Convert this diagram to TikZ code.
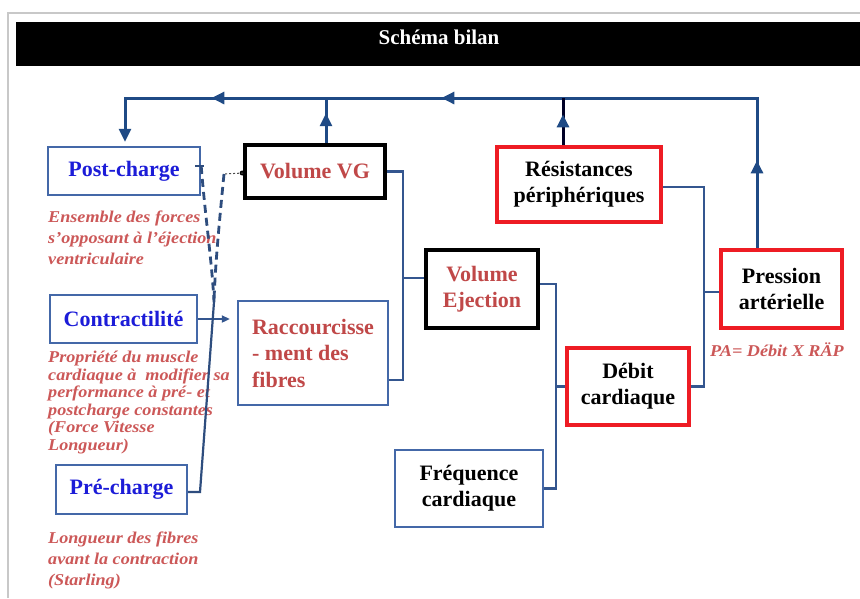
\documentclass[tikz,border=0pt]{standalone}
\usepackage{fontspec}
\setmainfont{Liberation Serif}
\newfontfamily\annotfamily[FakeStretch=1.1]{Liberation Serif}
\usetikzlibrary{arrows.meta,decorations.markings,calc}
\definecolor{framegray}{HTML}{C8C8C8}
\definecolor{boxblue}{HTML}{4468A8}
\definecolor{connblue}{HTML}{34568F}
\definecolor{busblue}{HTML}{1F4A85}
\definecolor{dashblue}{HTML}{2E4D7E}
\definecolor{textblue}{HTML}{1C1CD8}
\definecolor{redtext}{HTML}{C04848}
\definecolor{annotred}{HTML}{CC5858}
\definecolor{redborder}{HTML}{EE1C24}
\newcommand{\boxfont}{\bfseries\fontsize{22}{26}\selectfont}
\newcommand{\annotfont}{\annotfamily\bfseries\itshape\fontsize{16.5}{21}\selectfont}
\begin{document}
\begin{tikzpicture}[x=1pt,y=-1pt,
  box/.style={rectangle,inner sep=0pt,align=center,font=\boxfont},
  bluebox/.style={box,draw=boxblue,line width=2.4pt},
  blackbox/.style={box,draw=black,line width=3.6pt},
  redbox/.style={box,draw=redborder,line width=3.2pt},
  annot/.style={anchor=north west,align=left,inner sep=0pt,text=annotred,font=\annotfont},
  conn/.style={draw=connblue,line width=2.4pt},
  bus/.style={draw=busblue,line width=3pt},
  dashline/.style={draw=dashblue,line width=2.8pt,dash pattern=on 8pt off 5pt},
  bustip/.tip={Triangle[length=13pt,width=12pt]},
  marks/.style={postaction={decorate},decoration={markings,#1}}
]
\useasboundingbox (0,0) rectangle (860,598);
\fill[white] (0,0) rectangle (860,598);
\draw[framegray,line width=2pt] (8,598) -- (8,13) -- (860,13);
\fill[black] (16,22) rectangle (860,66);
\node[text=white,font=\bfseries\fontsize{21}{24}\selectfont] (title) at (439,37) {Schéma bilan};

% boxes
\node[bluebox,minimum width=152pt,minimum height=48pt,text=textblue] (post) at (124,171) {Post-charge};
\node[bluebox,minimum width=147pt,minimum height=48pt,text=textblue] (contr) at (123.5,319) {Contractilité};
\node[bluebox,minimum width=131pt,minimum height=49pt,text=textblue] (pre) at (121.5,489.5) {Pré-charge};
\node[blackbox,minimum width=140pt,minimum height=53pt,text=redtext] (vvg) at (315,171.5) {Volume VG};
\node[bluebox,minimum width=150pt,minimum height=104pt,text=redtext,align=left,font=\bfseries\fontsize{22}{26.5}\selectfont] (racc) at (313,353) {Raccourcisse\\- ment des\\fibres};
\node[blackbox,minimum width=112pt,minimum height=78pt,text=redtext] (vej) at (482,289) {Volume\\Ejection};
\node[redbox,minimum width=164pt,minimum height=75pt] (res) at (579,184.5) {Résistances\\périphériques};
\node[redbox,minimum width=121pt,minimum height=78pt] (pres) at (781.5,289) {Pression\\artérielle};
\node[redbox,minimum width=122pt,minimum height=77pt] (deb) at (628,386.5) {Débit\\cardiaque};
\node[bluebox,minimum width=148pt,minimum height=77pt] (freq) at (469,488.5) {Fréquence\\cardiaque};

% annotations
\node[annot] (ann1) at (48,211) {Ensemble des forces\\s’opposant à l’éjection\\ventriculaire};
\node[annot,font=\annotfamily\bfseries\itshape\fontsize{16.5}{17.5}\selectfont] (ann2) at (48,351) {Propriété du muscle\\cardiaque à~ modifier sa\\performance à pré- et\\postcharge constantes\\(Force Vitesse\\Longueur)};
\node[annot] (ann3) at (48,532) {Longueur des fibres\\avant la contraction\\(Starling)};
\node[annot,anchor=west] (pa) at (710,350) {PA= Débit X RÄP};

% brackets
\coordinate (b1) at (403,278);
\draw[conn] (vvg.east) -| (b1) |- ([yshift=-27pt]racc.east);
\draw[conn] (b1) -- (vej.west |- b1);
\coordinate (b2) at (556,386.5);
\draw[conn] ([yshift=5pt]vej.east) -| (b2) |- (freq.east);
\draw[conn] (b2) -- (deb.west);
\coordinate (b3) at (704,292);
\draw[conn] ([yshift=-2.5pt]res.east) -| (b3) |- (deb.east);
\draw[conn] (b3) -- (pres.west |- b3);

% contractilite arrow
\draw[conn,-{Triangle[length=8pt,width=7pt]},shorten >=7pt] (contr.east) -- (racc.west |- contr.east);

% feedback bus
\coordinate (c1) at (757,98);
\coordinate (c2) at (125,98);
\draw[bus,-{bustip},shorten >=4pt,
  marks={mark=at position 88pt with {\arrow{bustip}},
         mark=at position 466pt with {\arrow{bustip}},
         mark=at position 696pt with {\arrow{bustip}}}]
  (c1 |- pres.north) -- (c1) -- (c2) -- (c2 |- post.north);
\coordinate (v1) at (326,98);
\draw[bus,marks={mark=at position 30pt with {\arrow{bustip}}}] (v1 |- vvg.north) -- (v1);
\coordinate (v2) at (563,98);
\draw[bus,draw=black!85!blue,marks={mark=at position 31pt with {\arrow[busblue]{bustip}}}] (v2 |- res.north) -- (v2);

% dashed influences
\coordinate (jn) at (214,302);
\coordinate (t1) at ([yshift=5pt]post.east);
\draw[conn,line width=1.6pt,draw=dashblue] ([xshift=-6pt]t1) -- ([xshift=3pt]t1);
\draw[dashline] (t1) .. controls (205,215) and (212,262) .. (jn);
\coordinate (t2) at (224,174);
\fill[black] ([xshift=-1pt,yshift=-1.5pt]vvg.west) circle (2.5pt);
\draw[black!70,line width=1pt,dash pattern=on 2pt off 2pt] ([yshift=-1.5pt]vvg.west) -- (t2);
\draw[dashline] (t2) .. controls (219,225) and (215,268) .. (jn);
\draw[draw=dashblue,line width=2.2pt] ([yshift=-2.5pt]pre.east) -- (200,492) -- (jn);
\end{tikzpicture}
\end{document}
